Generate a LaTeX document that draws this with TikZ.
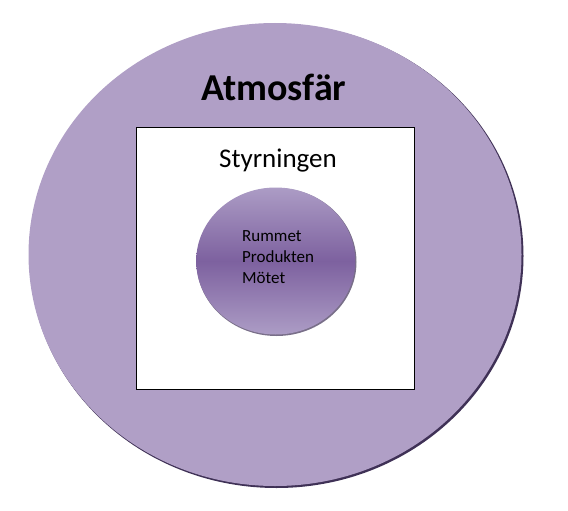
\documentclass[tikz,border=0pt]{standalone}
\usepackage{fontspec}
\setmainfont{Carlito}
\usepackage{xcolor}
\definecolor{atmo}{HTML}{B09FC6}
\definecolor{atmoedge}{HTML}{3F3156}
\definecolor{roomlight}{HTML}{AC9CC5}
\definecolor{roomdark}{HTML}{7D619F}
\begin{document}
\begin{tikzpicture}[x=1pt,y=-1pt]
  \useasboundingbox (0,0) rectangle (568,511);
  \fill[color=atmoedge] (276.5,256) ellipse [x radius=247, y radius=232];
  \fill[color=atmo] (275,254.5) ellipse [x radius=246.5, y radius=231.5];
  \node[font=\bfseries\fontsize{38}{40}\selectfont, anchor=base] (atmo) at (274,101) {Atmosfär};

  \draw[thick, fill=white] (136.7,127.7) rectangle (414.3,389.3);
  \node[font=\fontsize{27}{30}\selectfont, anchor=base] (styr) at (278,167.7) {Styrningen};

  \fill[color=atmoedge!70] (276.5,262) ellipse [x radius=80, y radius=74];
  \shade[top color=roomlight, bottom color=roomlight, middle color=roomdark] (275.7,261) ellipse [x radius=79.5, y radius=73.5];
  \node[font=\fontsize{17}{20.8}\selectfont, anchor=base west, inner sep=0pt, align=left] (room) at (242,283.3) {Rummet\\Produkten\\Mötet};
\end{tikzpicture}
\end{document}
